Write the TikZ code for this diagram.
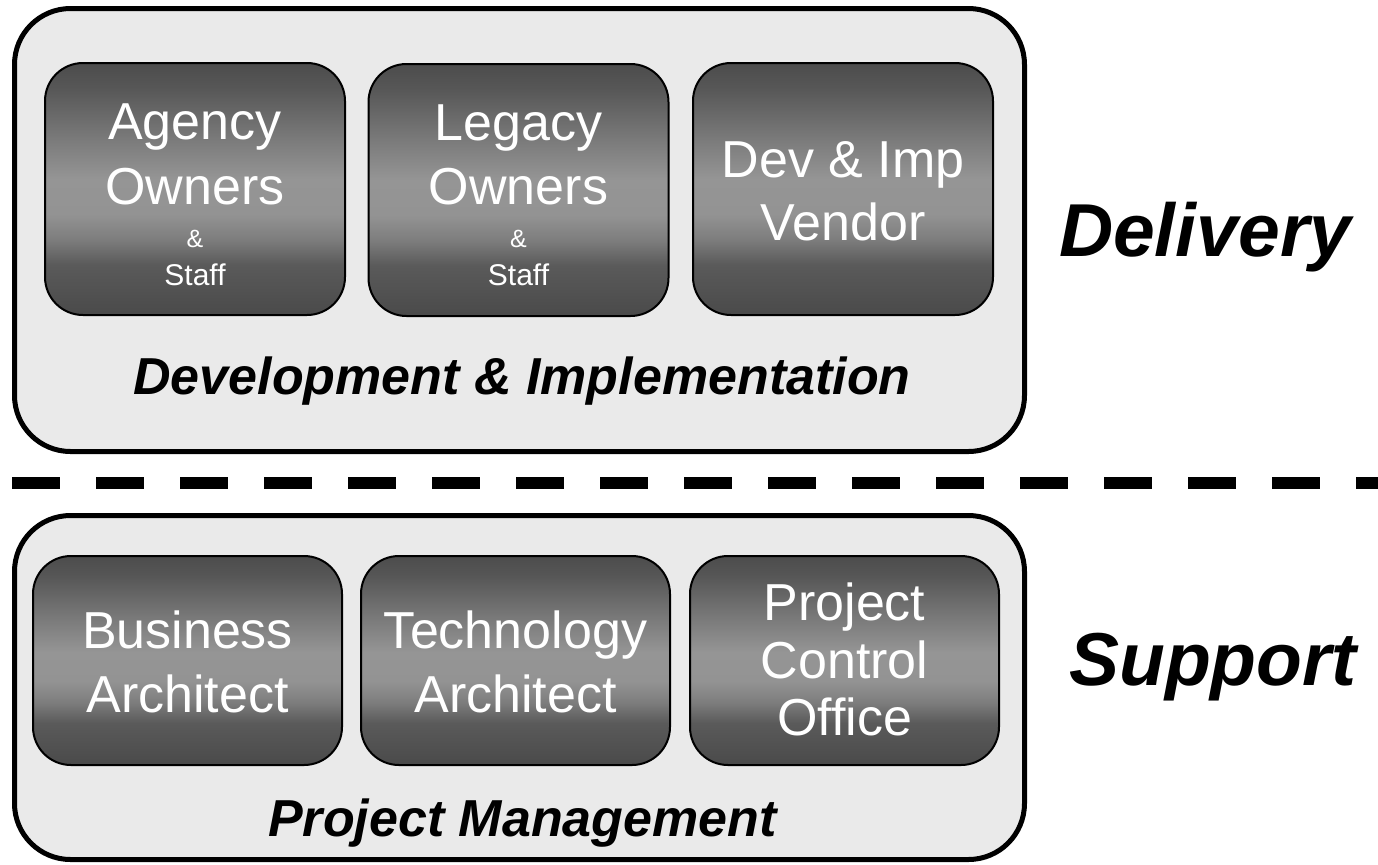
\documentclass[tikz,border=0pt]{standalone}
\usepackage{fontspec}
\setmainfont{Liberation Sans}
\definecolor{panelfill}{HTML}{EAEAEA}
\definecolor{sA}{HTML}{4A4A4A}
\definecolor{sB}{HTML}{5A5A5A}
\definecolor{sC}{HTML}{7D7D7D}
\definecolor{sD}{HTML}{939393}
\definecolor{sE}{HTML}{959595}
\definecolor{sF}{HTML}{7A7A7A}
\definecolor{sG}{HTML}{575757}
\definecolor{sH}{HTML}{4C4C4C}
\pgfdeclareverticalshading{boxshade}{100bp}{color(0bp)=(sA); color(25bp)=(sA); color(35bp)=(sB); color(40bp)=(sC); color(45bp)=(sD); color(52bp)=(sE); color(60bp)=(sF); color(70bp)=(sG); color(75bp)=(sH); color(100bp)=(sH)}
\tikzset{
  panel/.style={draw=black, line width=2.5pt, fill=panelfill, rounded corners=28pt, inner sep=0pt},
  rolebox/.style={draw=black, line width=1pt, shading=boxshade, rounded corners=19pt, inner sep=0pt},
  topbox/.style={rolebox, minimum width=150pt, minimum height=126pt},
  lowbox/.style={rolebox, minimum width=154.5pt, minimum height=104.5pt},
  bigtxt/.style={anchor=base, inner sep=0pt, text=white, font=\fontsize{26}{30}\selectfont},
  amptxt/.style={anchor=base, inner sep=0pt, text=white, font=\fontsize{12.5}{14}\selectfont},
  smalltxt/.style={anchor=base, inner sep=0pt, text=white, font=\fontsize{15}{17}\selectfont},
  paneltitle/.style={anchor=base, inner sep=0pt, font=\fontsize{26}{30}\selectfont\bfseries\itshape},
  sidetitle/.style={anchor=base, inner sep=0pt, font=\fontsize{37.5}{42}\selectfont\bfseries\itshape},
  divider/.style={line width=6pt, dash pattern=on 24pt off 18pt}
}
\begin{document}
\begin{tikzpicture}[x=0.5pt,y=-0.5pt]
\useasboundingbox (0,0) rectangle (1378,864);
% panels
\node[panel, minimum width=505pt, minimum height=221.5pt] (devpanel) at (519.5,230) {};
\node[panel, minimum width=505pt, minimum height=172pt] (pmpanel) at (519.5,687.5) {};
% divider
\coordinate (dl) at (12,483);
\coordinate (dr) at (1378,483);
\draw[divider] (dl) -- (dr);
% top boxes
\node[topbox] (agency) at (195,189) {};
\node[topbox] (legacy) at (518.5,190) {};
\node[topbox] (vendor) at (843,189) {};
\node[bigtxt] (agency1) at (195,139) {Agency};
\node[bigtxt] (agency2) at (195,204) {Owners};
\node[amptxt] (agency3) at (195,247) {\&};
\node[smalltxt] (agency4) at (195,285) {Staff};
\node[bigtxt] (legacy1) at (518.5,140) {Legacy};
\node[bigtxt] (legacy2) at (518.5,204) {Owners};
\node[amptxt] (legacy3) at (518.5,247) {\&};
\node[smalltxt] (legacy4) at (518.5,285) {Staff};
\node[bigtxt] (vendor1) at (843,177) {Dev \& Imp};
\node[bigtxt] (vendor2) at (843,240) {Vendor};
\node[paneltitle] (devtitle) at (522,394) {Development \& Implementation};
% bottom boxes
\node[lowbox] (busarch) at (187.5,660.5) {};
\node[lowbox] (techarch) at (515.5,660.5) {};
\node[lowbox] (pco) at (844.5,660.5) {};
\node[bigtxt] (busarch1) at (187.5,648) {Business};
\node[bigtxt] (busarch2) at (187.5,712) {Architect};
\node[bigtxt] (techarch1) at (515.5,648) {Technology};
\node[bigtxt] (techarch2) at (515.5,712) {Architect};
\node[bigtxt] (pco1) at (844.5,620) {Project};
\node[bigtxt] (pco2) at (844.5,678) {Control};
\node[bigtxt] (pco3) at (844.5,735) {Office};
\node[paneltitle] (pmtitle) at (522.5,836) {Project Management};
% side titles
\node[sidetitle] (delivery) at (1205,256) {Delivery};
\node[sidetitle] (support) at (1213,685) {Support};
\end{tikzpicture}
\end{document}
